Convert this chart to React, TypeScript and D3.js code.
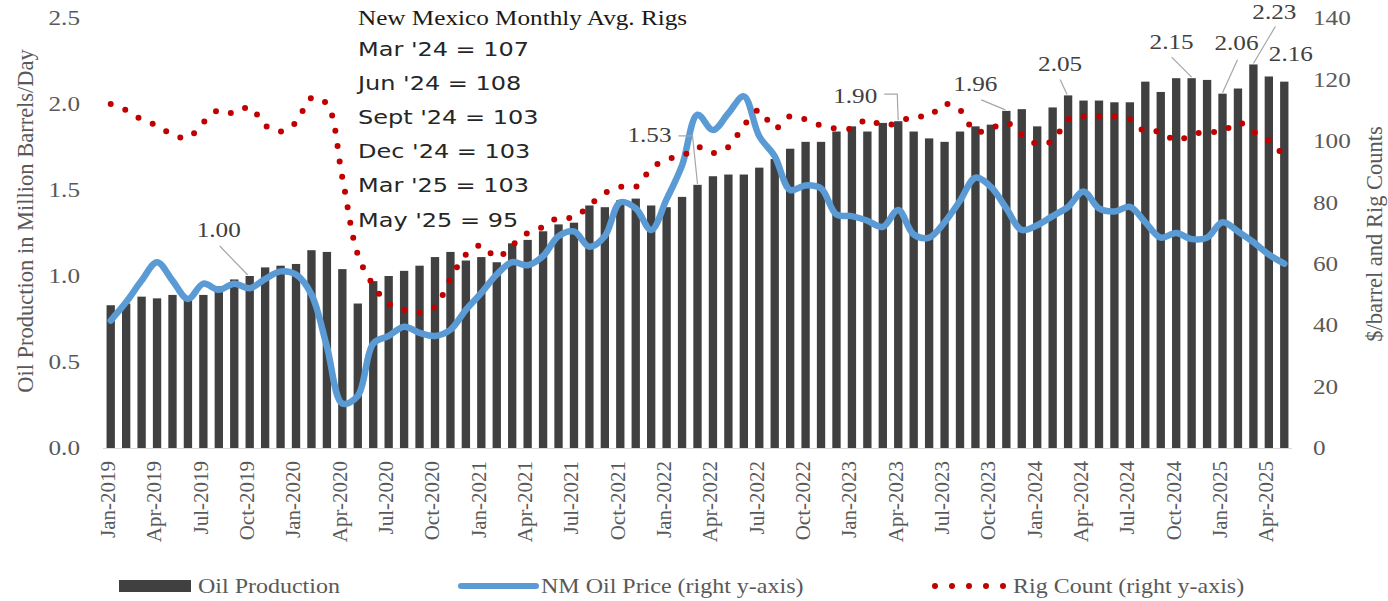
import React from "react";
import * as d3 from "d3";

// ---------- DATA ----------
const monthNames = ["Jan", "Feb", "Mar", "Apr", "May", "Jun", "Jul", "Aug", "Sep", "Oct", "Nov", "Dec"];
const categories: string[] = [];
for (let y = 2019; y <= 2025; y++) {
  for (let m = 0; m < 12; m++) {
    if (y === 2025 && m > 4) break;
    categories.push(`${monthNames[m]}-${y}`);
  }
}

// Oil production, million barrels/day (left axis)
const oilProduction = [
  0.83, 0.84, 0.88, 0.87, 0.89, 0.87, 0.89, 0.94, 0.98, 1.0, 1.05, 1.06,
  1.07, 1.15, 1.14, 1.04, 0.84, 0.97, 1.0, 1.03, 1.06, 1.11, 1.14, 1.09,
  1.11, 1.08, 1.19, 1.21, 1.26, 1.3, 1.31, 1.41, 1.4, 1.44, 1.45, 1.41,
  1.4, 1.46, 1.53, 1.58, 1.59, 1.59, 1.63, 1.68, 1.74, 1.78, 1.78, 1.84,
  1.87, 1.84, 1.89, 1.9, 1.84, 1.8, 1.78, 1.84, 1.87, 1.88, 1.96, 1.97,
  1.87, 1.98, 2.05, 2.02, 2.02, 2.01, 2.01, 2.13, 2.07, 2.15, 2.15, 2.14,
  2.06, 2.09, 2.23, 2.16, 2.13,
];

// NM oil price, $/barrel (right axis)
const oilPrice = [
  41.5, 47.5, 54.5, 60.5, 54.5, 48.5, 53.5, 51.5, 53.5, 52, 55, 57.5,
  56.5, 50, 33, 14.5, 17, 34, 36.5, 39.5, 37.5, 36.5, 38.5, 45,
  50.5, 56.5, 60.5, 59.5, 62.5, 69, 70.5, 65.5, 69, 80, 78, 71,
  81, 92, 108.5, 103.5, 109, 114.5, 101.5, 95, 84, 85.5, 84.5, 76,
  75.5, 74, 72, 77.5, 69.5, 68.5, 73.5, 80.5, 88, 85, 78, 71,
  72.5, 75.5, 78.5, 83.5, 78, 77, 78.5, 73.5, 68.5, 70, 68, 68.5,
  73.5, 70.5, 67, 63, 60,
];

// Rig count (right axis)
const rigCount = [
  112, 110, 107, 105, 102, 101, 106, 110, 109, 111, 105, 103,
  106, 114, 112, 88, 63, 53, 47, 45, 44, 46, 55, 63,
  66, 62, 66, 70, 72, 75, 75, 79, 83, 85, 85, 91,
  94, 95, 98, 96, 98, 105, 110, 104, 108, 107, 105, 104,
  104, 107, 105, 106, 108, 108, 112, 110, 103, 104, 106, 102,
  99, 100, 107, 108, 108, 108, 107, 103, 103, 100, 102, 103,
  103, 106, 103, 100, 95,
];

const leftTicks = [0, 0.5, 1.0, 1.5, 2.0, 2.5];
const rightTicks = [0, 20, 40, 60, 80, 100, 120, 140];

// Bars carrying a data label (month index)
const labelledBars = [9, 38, 51, 58, 62, 70, 72, 74, 75];

// Rig note box
const noteTitle = "New Mexico Monthly Avg. Rigs";
const noteMonths = ["Mar '24", "Jun '24", "Sept '24", "Dec '24", "Mar '25", "May '25"];
const noteIdx = [62, 65, 68, 71, 74, 76];

const legendNames = ["Oil Production", "NM Oil Price (right y-axis)", "Rig Count (right y-axis)"];
const leftTitle = "Oil Production in Million Barrels/Day";
const rightTitle = "$/barrel and Rig Counts";

// ---------- LAYOUT ----------
const W = 1388;
const H = 601;
const M = { left: 103, right: 1292, top: 18, bottom: 448 };
const SX = 1.2; // horizontal stretch of horizontal text
const SERIF = "'Liberation Serif', 'Times New Roman', serif";
const SANS = "'DejaVu Sans', Verdana, sans-serif";
const BAR = "#404040";
const BLUE = "#5B9BD5";
const RED = "#C00000";
const TICK = "#595959";

// label offsets relative to bar top: [dx, dy] label centre; leader points relative
const labelLayout: { d: [number, number]; leader: [number, number][] }[] = [
  { d: [-31, -46], leader: [[-30, -30], [-2, -1]] },
  { d: [-48, -50], leader: [[-19, -49], [-5, -49], [0, -1]] },
  { d: [-43, -26], leader: [[-14, -27], [-1, -27], [0, -1]] },
  { d: [-31, -27], leader: [[-25, -11], [-1, -1]] },
  { d: [-8, -32], leader: [[-8, -16], [-1, -1]] },
  { d: [-20, -37], leader: [[-20, -21], [0, -1]] },
  { d: [14, -51], leader: [[15, -34], [0, -1]] },
  { d: [21, -53], leader: [[22, -38], [0, -1]] },
  { d: [22, -23], leader: [] },
];

function HText(props: {
  x: number; y: number; size: number; family: string; fill: string;
  anchor?: "start" | "middle" | "end"; dy?: string; children: React.ReactNode;
}) {
  const { x, y, size, family, fill, anchor = "start", dy, children } = props;
  return (
    <text
      transform={`translate(${x},${y}) scale(${SX},1)`}
      fontSize={size}
      fontFamily={family}
      fill={fill}
      textAnchor={anchor}
      dy={dy}
    >
      {children}
    </text>
  );
}

export default function App() {
  const x = d3
    .scaleBand<string>()
    .domain(categories)
    .range([M.left, M.right])
    .paddingInner(0.46)
    .paddingOuter(0.23);
  const yL = d3.scaleLinear().domain([0, 2.5]).range([M.bottom, M.top]);
  const yR = d3.scaleLinear().domain([0, 140]).range([M.bottom, M.top]);
  const cx = (i: number) => (x(categories[i]) as number) + x.bandwidth() / 2;

  const lineGen = d3
    .line<number>()
    .x((_, i) => cx(i))
    .y((d) => yR(d))
    .curve(d3.curveCatmullRom.alpha(0.5));

  const priceD = lineGen(oilPrice) || "";
  const rigD = lineGen(rigCount) || "";

  return (
    <div style={{ position: "absolute", left: 0, top: 0, width: W, height: H, background: "#fff" }}>
      <svg width={W} height={H} style={{ display: "block" }}>
        <rect x={0} y={0} width={W} height={H} fill="#fff" />

        {/* bars */}
        {oilProduction.map((v, i) => (
          <rect
            key={i}
            x={x(categories[i])}
            y={yL(v)}
            width={x.bandwidth()}
            height={yL(0) - yL(v)}
            fill={BAR}
          />
        ))}

        {/* baseline */}
        <line x1={M.left} x2={M.right} y1={M.bottom + 0.5} y2={M.bottom + 0.5} stroke="#d9d9d9" strokeWidth={1.2} />

        {/* price line */}
        <path d={priceD} fill="none" stroke={BLUE} strokeWidth={6.5} strokeLinejoin="round" strokeLinecap="round" />

        {/* rig line (dotted) */}
        <path
          d={rigD}
          fill="none"
          stroke={RED}
          strokeWidth={6}
          strokeLinecap="round"
          strokeDasharray="0 15.5"
        />

        {/* left ticks */}
        {leftTicks.map((t) => (
          <HText key={t} x={80} y={yL(t)} dy="0.35em" size={21} family={SERIF} fill={TICK} anchor="end">
            {t.toFixed(1)}
          </HText>
        ))}
        {/* right ticks */}
        {rightTicks.map((t) => (
          <HText key={t} x={1313} y={yR(t)} dy="0.35em" size={21} family={SERIF} fill={TICK} anchor="start">
            {String(t)}
          </HText>
        ))}

        {/* x ticks */}
        {categories.map((c, i) =>
          i % 3 === 0 ? (
            <text
              key={c}
              transform={`translate(${cx(i) - 3},461) rotate(-90)`}
              textAnchor="end"
              dy="0.35em"
              fontSize={21}
              fontFamily={SERIF}
              fill={TICK}
            >
              {c}
            </text>
          ) : null
        )}

        {/* axis titles */}
        <text
          transform="translate(25,221) rotate(-90)"
          textAnchor="middle"
          dy="0.35em"
          fontSize={22.5}
          fontFamily={SERIF}
          fill={TICK}
        >
          {leftTitle}
        </text>
        <text
          transform="translate(1374,234) rotate(-90)"
          textAnchor="middle"
          dy="0.35em"
          fontSize={22.5}
          fontFamily={SERIF}
          fill={TICK}
        >
          {rightTitle}
        </text>

        {/* data labels */}
        {labelledBars.map((bi, k) => {
          const bx = cx(bi);
          const by = yL(oilProduction[bi]);
          const L = labelLayout[k];
          const pts = L.leader.map(([dx, dy]) => [bx + dx, by + dy] as [number, number]);
          return (
            <g key={bi}>
              {pts.length > 1 && (
                <path
                  d={d3.line()(pts) || ""}
                  fill="none"
                  stroke="#a6a6a6"
                  strokeWidth={1.2}
                />
              )}
              <HText x={bx + L.d[0]} y={by + L.d[1]} dy="0.35em" size={21} family={SERIF} fill="#404040" anchor="middle">
                {oilProduction[bi].toFixed(2)}
              </HText>
            </g>
          );
        })}

        {/* note box */}
        <HText x={358} y={25} size={21} family={SERIF} fill="#1a1a1a">
          {noteTitle}
        </HText>
        {noteMonths.map((m, k) => (
          <HText key={m} x={358} y={56 + k * 34.1} size={20} family={SANS} fill="#262626">
            {`${m} = ${rigCount[noteIdx[k]]}`}
          </HText>
        ))}

        {/* legend */}
        <rect x={119} y={580} width={72} height={12} fill={BAR} />
        <HText x={198} y={593} size={20} family={SERIF} fill={TICK}>
          {legendNames[0]}
        </HText>
        <line x1={461} x2={536} y1={586} y2={586} stroke={BLUE} strokeWidth={6} strokeLinecap="round" />
        <HText x={541} y={593} size={20} family={SERIF} fill={TICK}>
          {legendNames[1]}
        </HText>
        <line
          x1={935}
          x2={1004}
          y1={586}
          y2={586}
          stroke={RED}
          strokeWidth={6}
          strokeLinecap="round"
          strokeDasharray="0 17"
        />
        <HText x={1013} y={593} size={20} family={SERIF} fill={TICK}>
          {legendNames[2]}
        </HText>
      </svg>
    </div>
  );
}
